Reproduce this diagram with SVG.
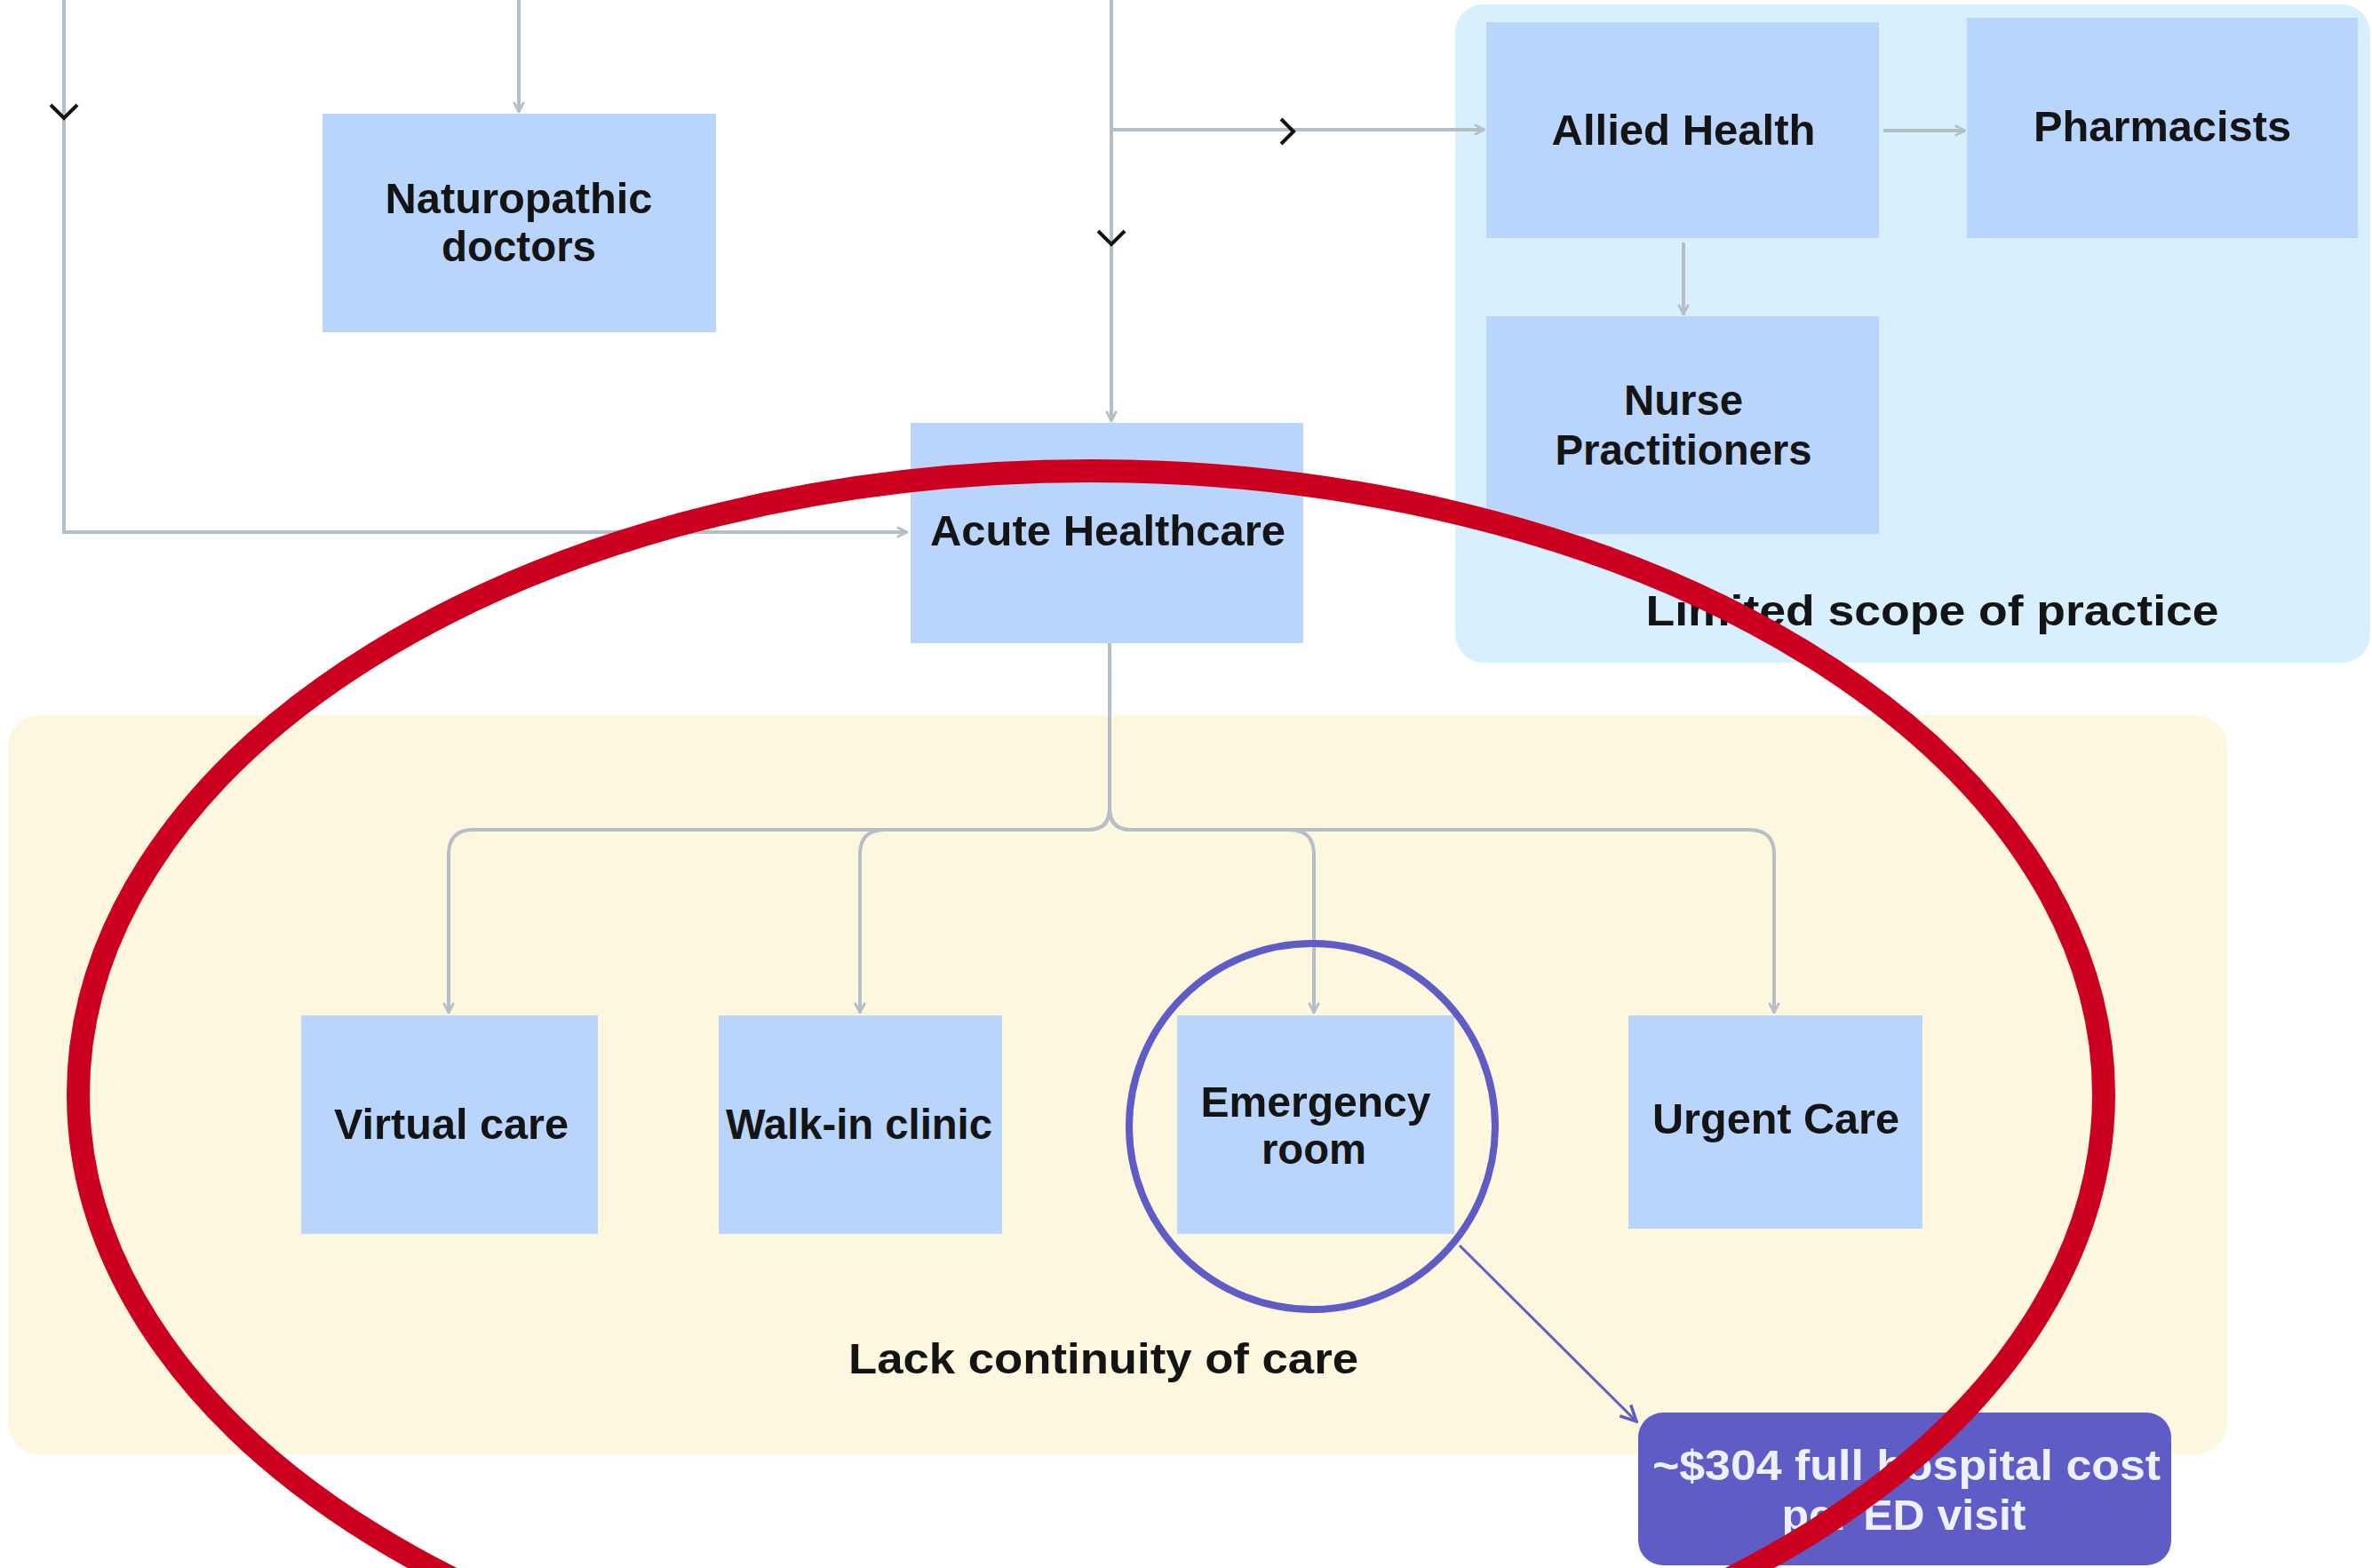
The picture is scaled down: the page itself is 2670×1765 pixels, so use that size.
<svg xmlns="http://www.w3.org/2000/svg" width="2670" height="1765" viewBox="0 0 2670 1765">
  <style>
    .box { fill: #b9d5fb; }
    .lbl { font-family: "Liberation Sans", Arial, sans-serif; font-weight: 700; font-size: 48px; fill: #141414; text-anchor: middle; }
    .conn { fill: none; stroke: #b4bfc8; stroke-width: 4; }
    .chev { fill: none; stroke: #111; stroke-width: 4; stroke-linecap: butt; }
  </style>
  <defs>
    <marker id="arr" viewBox="0 0 10 10" refX="9" refY="5" markerWidth="14" markerHeight="14" markerUnits="userSpaceOnUse" orient="auto">
      <path d="M1,1 L9,5 L1,9" fill="none" stroke="#b4bfc8" stroke-width="2"/>
    </marker>
    <marker id="arrP" viewBox="0 0 10 10" refX="9" refY="5" markerWidth="22" markerHeight="22" markerUnits="userSpaceOnUse" orient="auto">
      <path d="M1,1 L9,5 L1,9" fill="none" stroke="#5f5cc6" stroke-width="1.6"/>
    </marker>
  </defs>

  <rect width="2670" height="1765" fill="#ffffff"/>

  <!-- group backgrounds -->
  <g id="group-limited-scope">
    <rect x="1638" y="5" width="1030" height="741" rx="32" fill="#d8effd"/>
    <text class="lbl" x="2175" y="704" textLength="645" lengthAdjust="spacingAndGlyphs">Limited scope of practice</text>
  </g>
  <g id="group-continuity">
    <rect x="9" y="805" width="2498" height="832" rx="36" fill="#fef7df"/>
    <text class="lbl" x="1242" y="1546" textLength="574" lengthAdjust="spacingAndGlyphs">Lack continuity of care</text>
  </g>

  <!-- connectors -->
  <g id="connectors">
    <path class="conn" d="M72,0 V599 H1021" stroke-width="5" marker-end="url(#arr)"/>
    <path class="conn" d="M584,0 V126" marker-end="url(#arr)"/>
    <path class="conn" d="M1251,0 V474" marker-end="url(#arr)"/>
    <path class="conn" d="M1251,146 H1671" marker-end="url(#arr)"/>
    <path class="conn" d="M2120,147 H2212" marker-end="url(#arr)"/>
    <path class="conn" d="M1895,273 V354" marker-end="url(#arr)"/>
    <path class="conn" d="M1249,724 V910 Q1249,934 1225,934 H533 Q505,934 505,962 V1140" marker-end="url(#arr)"/>
    <path class="conn" d="M1249,724 V910 Q1249,934 1225,934 H996 Q968,934 968,962 V1140" marker-end="url(#arr)"/>
    <path class="conn" d="M1249,724 V910 Q1249,934 1273,934 H1451 Q1479,934 1479,962 V1140" marker-end="url(#arr)"/>
    <path class="conn" d="M1249,724 V910 Q1249,934 1273,934 H1969 Q1997,934 1997,962 V1140" marker-end="url(#arr)"/>
    <!-- direction chevrons on the trunk lines -->
    <path class="chev" d="M57,118 L72,133 L87,118"/>
    <path class="chev" d="M1236,260 L1251,275 L1266,260"/>
    <path class="chev" d="M1442,134 L1456,148 L1442,162"/>
  </g>

  <!-- nodes -->
  <g id="node-naturopathic">
    <rect class="box" x="363" y="128" width="443" height="246"/>
    <text class="lbl" x="584" y="240" textLength="301" lengthAdjust="spacingAndGlyphs">Naturopathic</text>
    <text class="lbl" x="584" y="294" textLength="174" lengthAdjust="spacingAndGlyphs">doctors</text>
  </g>
  <g id="node-acute">
    <rect class="box" x="1025" y="476" width="442" height="248"/>
    <text class="lbl" x="1247" y="614" textLength="400" lengthAdjust="spacingAndGlyphs">Acute Healthcare</text>
  </g>
  <g id="node-allied">
    <rect class="box" x="1673" y="25" width="442" height="243"/>
    <text class="lbl" x="1895" y="163" textLength="297" lengthAdjust="spacingAndGlyphs">Allied Health</text>
  </g>
  <g id="node-pharmacists">
    <rect class="box" x="2214" y="20" width="440" height="248"/>
    <text class="lbl" x="2434" y="159" textLength="290" lengthAdjust="spacingAndGlyphs">Pharmacists</text>
  </g>
  <g id="node-nurse">
    <rect class="box" x="1673" y="356" width="442" height="245"/>
    <text class="lbl" x="1895" y="467" textLength="134" lengthAdjust="spacingAndGlyphs">Nurse</text>
    <text class="lbl" x="1895" y="523" textLength="289" lengthAdjust="spacingAndGlyphs">Practitioners</text>
  </g>
  <g id="node-virtual">
    <rect class="box" x="339" y="1143" width="334" height="246"/>
    <text class="lbl" x="508" y="1282" textLength="264" lengthAdjust="spacingAndGlyphs">Virtual care</text>
  </g>
  <g id="node-walkin">
    <rect class="box" x="809" y="1143" width="319" height="246"/>
    <text class="lbl" x="967" y="1282" textLength="300" lengthAdjust="spacingAndGlyphs">Walk-in clinic</text>
  </g>
  <g id="node-emergency">
    <rect class="box" x="1325" y="1143" width="312" height="246"/>
    <text class="lbl" x="1481" y="1257" textLength="259" lengthAdjust="spacingAndGlyphs">Emergency</text>
    <text class="lbl" x="1479" y="1310" textLength="118" lengthAdjust="spacingAndGlyphs">room</text>
  </g>
  <g id="node-urgent">
    <rect class="box" x="1833" y="1143" width="331" height="240"/>
    <text class="lbl" x="1999" y="1276" textLength="278" lengthAdjust="spacingAndGlyphs">Urgent Care</text>
  </g>

  <!-- highlight on the emergency room and its cost callout -->
  <g id="callout">
    <circle cx="1477" cy="1268" r="206" fill="none" stroke="#5f5cc6" stroke-width="8"/>
    <line x1="1643" y1="1402" x2="1842" y2="1600" stroke="#5f5cc6" stroke-width="3" marker-end="url(#arrP)"/>
  </g>
  <g id="node-cost">
    <rect x="1844" y="1590" width="600" height="172" rx="28" fill="#5f5cc6"/>
    <text class="lbl" x="2146" y="1666" fill="#eef0ff" style="fill:#eef0ff" textLength="572" lengthAdjust="spacingAndGlyphs">~$304 full hospital cost</text>
    <text class="lbl" x="2143" y="1722" style="fill:#eef0ff" textLength="275" lengthAdjust="spacingAndGlyphs">per ED visit</text>
  </g>

  <!-- red emphasis ring -->
  <g id="emphasis">
    <ellipse cx="1228" cy="1232" rx="1140" ry="702" fill="none" stroke="#cc001f" stroke-width="26"/>
  </g>
</svg>
